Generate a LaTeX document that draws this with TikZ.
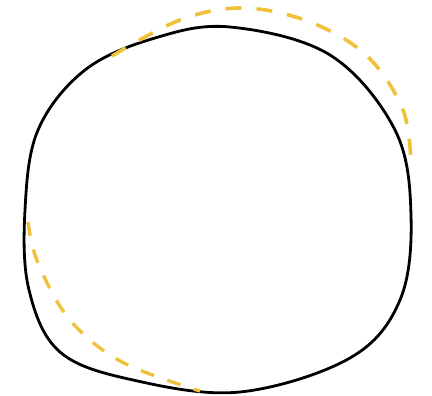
\documentclass[tikz,border=0pt]{standalone}
\definecolor{gold}{RGB}{240,193,58}
\begin{document}
\begin{tikzpicture}[x=1pt,y=-1pt]
		\useasboundingbox (0,0) rectangle (432,396);
		\draw[line width=2.8pt] plot[smooth cycle, tension=0.6] coordinates {(230,27) (330,55) (395,130) (411,215) (400,300) (350,358) (240,392) (133,380) (60,352) (29,290) (25,210) (38,130) (85,70) (155,38)};
		\draw[gold, line width=3.6pt, dash pattern=on 16pt off 15pt] plot[smooth, tension=0.6] coordinates {(112,56) (180,20) (243,8) (310,22) (367,56) (403,110) (411,165)};
		\draw[gold, line width=3.4pt, dash pattern=on 14pt off 14pt] plot[smooth, tension=0.6] coordinates {(28,222) (38,263) (70,320) (122,362) (200,391)};
	\end{tikzpicture}
\end{document}
